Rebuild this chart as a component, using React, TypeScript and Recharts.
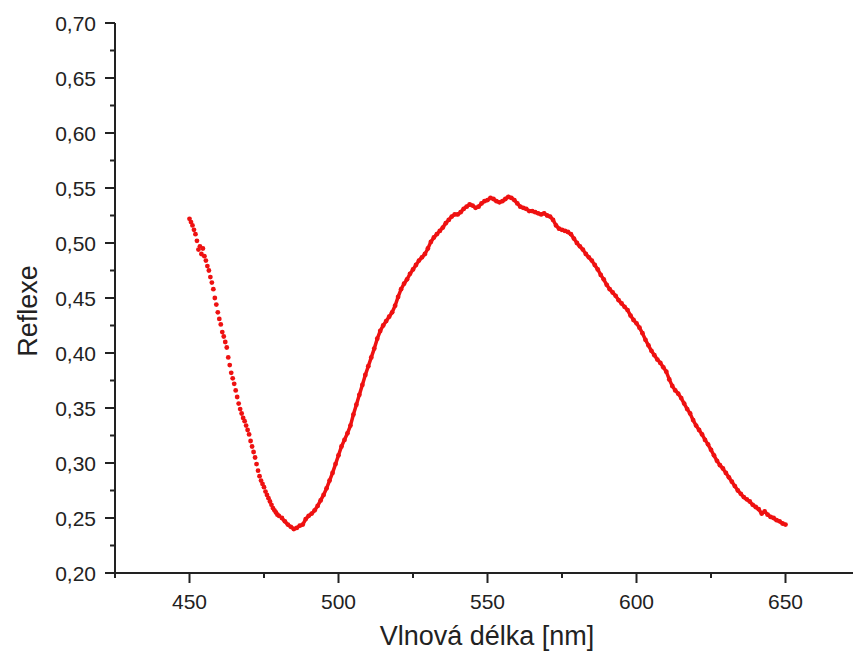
import React from 'react';
import { ScatterChart, Scatter, XAxis, YAxis } from 'recharts';

// spectrum sampled every 0.5 nm on the steep left flank, then every 1 nm
const steepStart = 450;
const steepStep = 0.5;
const steepReflexe = [
  0.522, 0.519, 0.516, 0.512, 0.508, 0.502, 0.494, 0.497, 0.490, 0.495,
  0.488, 0.484, 0.479, 0.475, 0.469, 0.464, 0.458, 0.450, 0.444, 0.437,
  0.431, 0.426, 0.419, 0.415, 0.410, 0.405, 0.396, 0.389, 0.382, 0.377,
  0.372, 0.366, 0.360, 0.354, 0.349, 0.345, 0.341, 0.338, 0.334, 0.330,
  0.326, 0.320, 0.315, 0.310, 0.305, 0.299, 0.293, 0.288, 0.284, 0.281,
  0.278, 0.274, 0.271, 0.268, 0.265, 0.262, 0.259, 0.257, 0.255, 0.253,
  0.252,
];

const mainStart = 481;
const mainStep = 1;
const mainReflexe = [
  0.250, 0.247, 0.244, 0.242, 0.240, 0.241, 0.243, 0.244, 0.249, 0.252,
  0.254, 0.257, 0.261, 0.266, 0.271, 0.277, 0.284, 0.291, 0.299, 0.307,
  0.315, 0.321, 0.327, 0.334, 0.344, 0.353, 0.362, 0.371, 0.380, 0.388,
  0.396, 0.404, 0.413, 0.420, 0.425, 0.429, 0.433, 0.437, 0.443, 0.451,
  0.458, 0.463, 0.467, 0.472, 0.476, 0.480, 0.484, 0.487, 0.490, 0.495,
  0.501, 0.505, 0.508, 0.511, 0.514, 0.518, 0.521, 0.524, 0.526, 0.526,
  0.528, 0.531, 0.533, 0.535, 0.534, 0.532, 0.533, 0.536, 0.538, 0.539,
  0.541, 0.540, 0.538, 0.537, 0.538, 0.540, 0.542, 0.541, 0.539, 0.536,
  0.533, 0.532, 0.531, 0.529, 0.529, 0.528, 0.527, 0.526, 0.527, 0.525,
  0.524, 0.521, 0.516, 0.513, 0.512, 0.511, 0.510, 0.508, 0.504, 0.500,
  0.497, 0.494, 0.490, 0.487, 0.484, 0.480, 0.476, 0.471, 0.467, 0.462,
  0.458, 0.455, 0.452, 0.448, 0.445, 0.442, 0.439, 0.434, 0.430, 0.427,
  0.423, 0.418, 0.412, 0.407, 0.402, 0.398, 0.394, 0.391, 0.387, 0.383,
  0.376, 0.370, 0.366, 0.363, 0.359, 0.354, 0.349, 0.345, 0.339, 0.334,
  0.330, 0.326, 0.321, 0.317, 0.312, 0.307, 0.302, 0.298, 0.295, 0.291,
  0.287, 0.283, 0.279, 0.275, 0.272, 0.269, 0.267, 0.265, 0.262, 0.260,
  0.258, 0.254, 0.256, 0.253, 0.251, 0.250, 0.248, 0.247, 0.245, 0.244,
];

const xTicks = [425, 450, 475, 500, 525, 550, 575, 600, 625, 650, 675];
const xMajor = [450, 500, 550, 600, 650];
const yTicks = [
  0.2, 0.225, 0.25, 0.275, 0.3, 0.325, 0.35, 0.375, 0.4, 0.425, 0.45,
  0.475, 0.5, 0.525, 0.55, 0.575, 0.6, 0.625, 0.65, 0.675, 0.7,
];
const yMajor = [0.2, 0.25, 0.3, 0.35, 0.4, 0.45, 0.5, 0.55, 0.6, 0.65, 0.7];

const steepData = steepReflexe.map((y, i) => ({ x: steepStart + i * steepStep, y }));
const mainData = mainReflexe.map((y, i) => ({ x: mainStart + i * mainStep, y }));

const FONT = '"Liberation Sans", Arial, sans-serif';
const INK = '#222';
const RED = '#ee1111';

const XTick = ({ x, y, payload }: any) => {
  const major = xMajor.includes(payload.value);
  return (
    <g>
      <line x1={x} x2={x} y1={y} y2={y + (major ? 10 : 5)} stroke={INK} strokeWidth={2} />
      {major && (
        <text x={x} y={y + 28} textAnchor="middle" dominantBaseline="central"
          fontFamily={FONT} fontSize={21} fill={INK}>
          {payload.value}
        </text>
      )}
    </g>
  );
};

const YTick = ({ x, y, payload }: any) => {
  const major = yMajor.some((v) => Math.abs(v - payload.value) < 1e-6);
  return (
    <g>
      <line x1={x} x2={x - (major ? 10 : 5)} y1={y} y2={y} stroke={INK} strokeWidth={2} />
      {major && (
        <text x={x - 19} y={y} textAnchor="end" dominantBaseline="central"
          fontFamily={FONT} fontSize={21} fill={INK}>
          {payload.value.toFixed(2).replace('.', ',')}
        </text>
      )}
    </g>
  );
};

const Dot = (props: any) => <circle cx={props.cx} cy={props.cy} r={2.4} fill={RED} />;

export default function App() {
  return (
    <div style={{ position: 'fixed', left: 0, top: 0, width: 853, height: 656, overflow: 'hidden', background: '#fff' }}>
      <ScatterChart width={880} height={656} margin={{ top: 23, right: 20, bottom: 0, left: 0 }}>
        <XAxis
          type="number"
          dataKey="x"
          domain={[425, 675]}
          ticks={xTicks}
          interval={0}
          tickSize={0}
          tickMargin={0}
          tickLine={false}
          tick={<XTick />}
          height={83}
          axisLine={{ stroke: INK, strokeWidth: 2 }}
          label={{
            content: () => (
              <text x={487} y={636} textAnchor="middle" dominantBaseline="central"
                fontFamily={FONT} fontSize={27} fill={INK}>
                Vlnová délka [nm]
              </text>
            ),
          }}
        />
        <YAxis
          type="number"
          dataKey="y"
          domain={[0.2, 0.7]}
          ticks={yTicks}
          interval={0}
          tickSize={0}
          tickMargin={0}
          tickLine={false}
          tick={<YTick />}
          width={115}
          axisLine={{ stroke: INK, strokeWidth: 2 }}
          label={{
            content: () => (
              <text x={28} y={311} transform="rotate(-90 28 311)" textAnchor="middle"
                dominantBaseline="central" fontFamily={FONT} fontSize={27} fill={INK}>
                Reflexe
              </text>
            ),
          }}
        />
        <Scatter data={steepData} shape={<Dot />} isAnimationActive={false} />
        <Scatter
          data={mainData}
          shape={<Dot />}
          line={{ stroke: RED, strokeWidth: 3.5 }}
          isAnimationActive={false}
        />
      </ScatterChart>
    </div>
  );
}
